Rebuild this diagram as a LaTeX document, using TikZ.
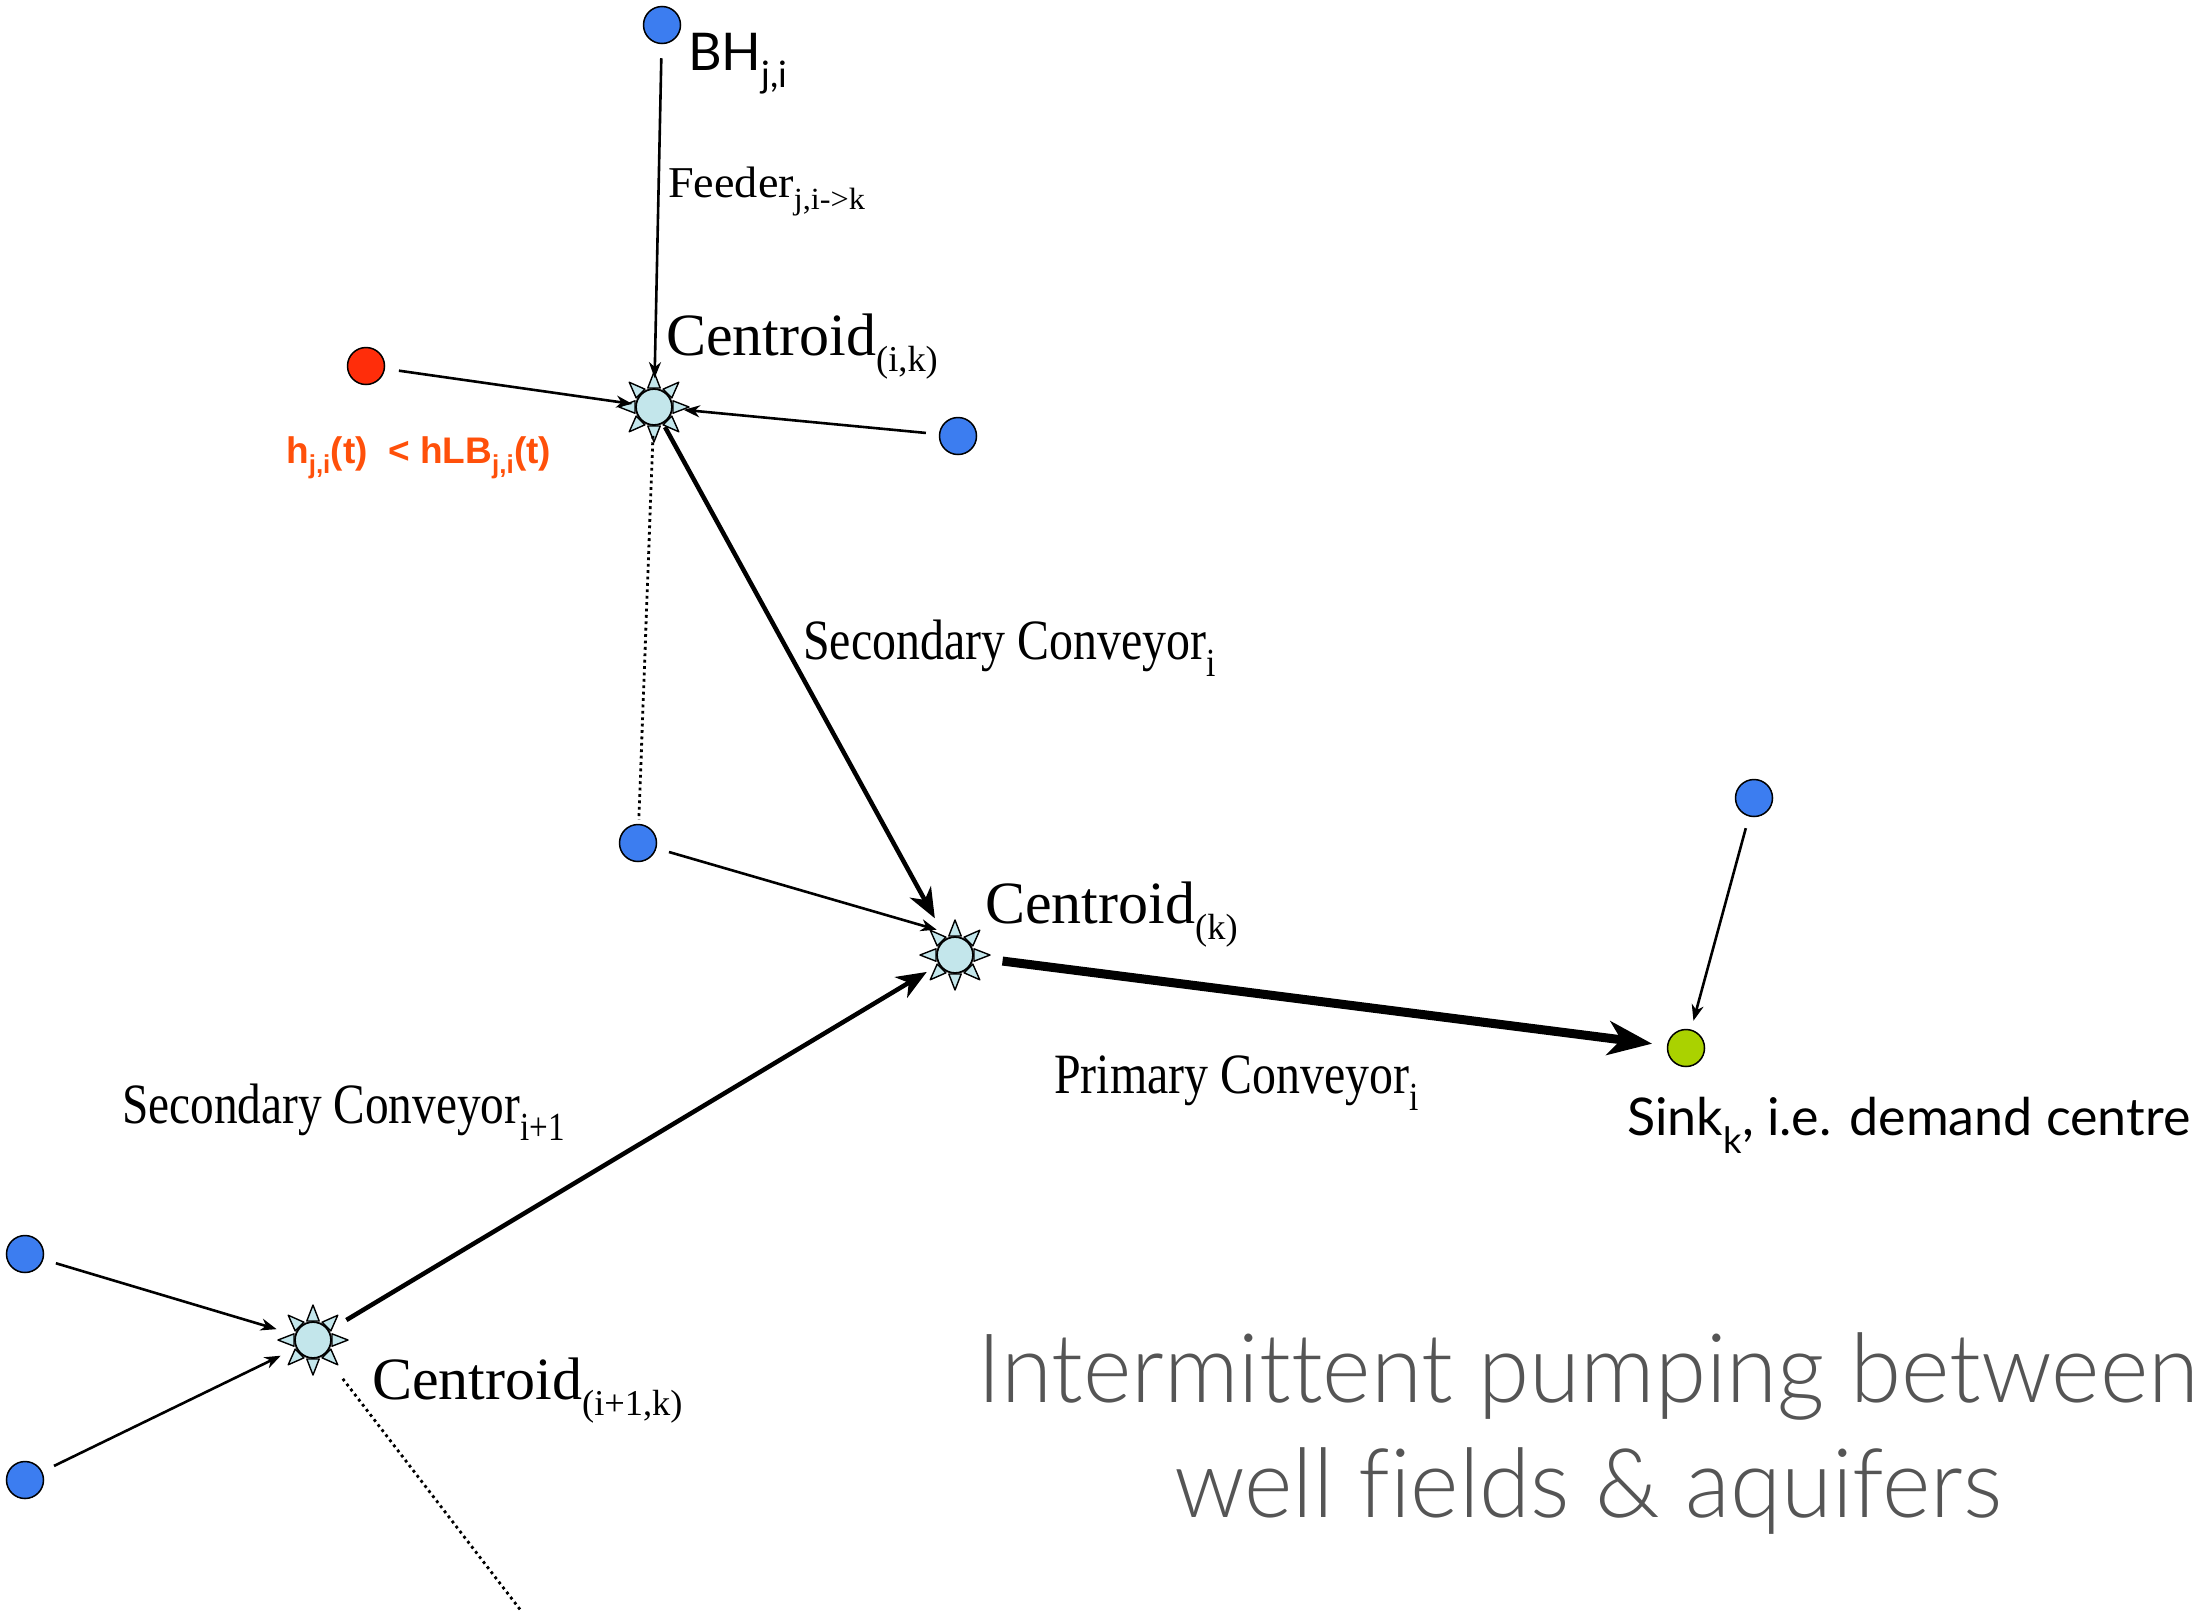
\documentclass[tikz,border=0pt]{standalone}
\usepackage{fontspec}
\usepackage{graphicx}
\setmainfont{Liberation Serif}
\newfontfamily\gill{Lato}
\IfFontExistsTF{Lato Light}{\newfontfamily\titlef{Lato Light}[Ligatures=NoCommon]}{\newfontfamily\titlef{Lato}[Ligatures=NoCommon]}
\newfontfamily\arialf{Liberation Sans}
\usetikzlibrary{arrows.meta,calc}
\definecolor{wellblue}{RGB}{60,125,240}
\definecolor{sinkgreen}{RGB}{170,210,0}
\definecolor{wellred}{RGB}{255,45,10}
\definecolor{redtext}{RGB}{255,80,10}
\definecolor{centfill}{RGB}{195,230,235}
\definecolor{titlegray}{RGB}{85,85,85}
\newcommand\sub[1]{\textsubscript{#1}}
\newcommand\hsc[2]{\scalebox{#1}[1]{#2}}
\newcommand\sunrays[1]{%
  \foreach \a in {0,45,...,315}{%
    \filldraw[fill=centfill, draw=black, line width=1.4pt, line join=round]
      ($(#1)+(\a:35)$) -- ($(#1)+(\a+18:20)$) -- ($(#1)+(\a-18:20)$) -- cycle;}}
\begin{document}
\begin{tikzpicture}[x=1pt,y=-1pt,
  well/.style={circle, draw=black, line width=1.5pt, fill=wellblue, minimum size=37pt, inner sep=0pt},
  cent/.style={circle, draw=black, line width=1.8pt, fill=centfill, minimum size=36pt, inner sep=0pt},
  feedarrow/.style={line width=2.6pt, -{Stealth[length=16pt,width=12pt,inset=5pt]}},
  secarrow/.style={line width=4.5pt, -{Stealth[length=30pt,width=24pt,inset=9pt]}},
  primarrow/.style={line width=9pt, -{Stealth[length=44pt,width=34pt,inset=13pt]}},
  dotline/.style={line width=2.8pt, dash pattern=on 2.8pt off 3.6pt},
  serifl/.style={anchor=base west, inner sep=0pt, font=\fontsize{57}{60}\selectfont},
  centl/.style={anchor=base west, inner sep=0pt, font=\fontsize{60}{64}\selectfont},
  sansl/.style={anchor=base west, inner sep=0pt, font=\gill\fontsize{52}{56}\selectfont},
  titlel/.style={anchor=base, inner sep=0pt, text=titlegray, font=\titlef\fontsize{96}{100}\selectfont},
]
\useasboundingbox (0,0) rectangle (2200,1612);

% nodes
\node[well] (bh) at (662,25) {};
\node[cent] (c1) at (654,407) {};
\node[well, fill=wellred] (red) at (366,366) {};
\node[well] (b2) at (958,436) {};
\node[well] (b3) at (638,843) {};
\node[cent] (ck) at (955,955) {};
\node[well, fill=sinkgreen] (sink) at (1686,1048) {};
\node[well] (b4) at (1754,798) {};
\node[cent] (c2) at (313,1340) {};
\node[well] (b5) at (25,1254) {};
\node[well] (b6) at (25,1480) {};
\coordinate (dend) at (522,1612);

\sunrays{c1}
\sunrays{ck}
\sunrays{c2}

% connectors
\draw[feedarrow, shorten <=14pt, shorten >=10pt] (bh) -- (c1);
\draw[feedarrow, shorten <=14pt, shorten >=3pt] (red) -- (c1);
\draw[feedarrow, shorten <=13pt, shorten >=11pt] (b2) -- (c1);
\draw[dotline, shorten <=10pt, shorten >=4pt] (c1) -- (b3);
\draw[feedarrow, shorten <=13pt, shorten >=19pt] (b3) -- ($(ck)+(0,-20)$);
\draw[secarrow, shorten <=4pt, shorten >=23pt] (c1) -- (ck);
\draw[secarrow, shorten <=20pt, shorten >=14pt] (c2) -- (ck);
\draw[primarrow, shorten <=29pt, shorten >=15pt] (ck) -- (sink);
\draw[feedarrow, shorten <=12pt, shorten >=9pt] (b4) -- (sink);
\draw[feedarrow, shorten <=13pt, shorten >=19pt] (b5) -- (c2);
\draw[feedarrow, shorten <=13pt, shorten >=17pt] (b6) -- (c2);
\draw[dotline, shorten <=30pt] (c2) -- (dend);

% labels
\node[sansl] (bhl) at (688,70) {BH\sub{j,i}};
\node[anchor=base west, inner sep=0pt, font=\fontsize{44}{46}\selectfont] (feedl) at (668,197) {\hsc{1.05}{Feeder\sub{j,i->k}}};
\node[centl] (c1l) at (666,355) {Centroid{\fontsize{52}{54}\selectfont\sub{(i,k)}}};
\node[anchor=base west, inner sep=0pt, font=\arialf\bfseries\fontsize{37}{40}\selectfont, text=redtext] (redl) at (286,463) {h\sub{j,i}(t)\ \ < hLB\sub{j,i}(t)};
\node[serifl] (sec1l) at (803,659) {\hsc{0.84}{Secondary Conveyor\sub{i}}};
\node[centl] (ckl) at (985,923) {Centroid{\fontsize{52}{54}\selectfont\sub{(k)}}};
\node[serifl] (priml) at (1054,1093) {\hsc{0.84}{Primary Conveyor\sub{i}}};
\node[sansl] (sinkl) at (1627,1135) {Sink\sub{k}, i.e. demand centre};
\node[serifl] (sec2l) at (122,1123) {\hsc{0.83}{Secondary Conveyor\sub{i+1}}};
\node[centl] (c2l) at (372,1399) {Centroid{\fontsize{52}{54}\selectfont\sub{(i+1,k)}}};

\node[titlel] (t1) at (1588,1402) {\hsc{0.965}{Intermittent pumping between}};
\node[titlel] (t2) at (1588,1517) {\hsc{0.965}{well fields \& aquifers}};
\end{tikzpicture}
\end{document}
